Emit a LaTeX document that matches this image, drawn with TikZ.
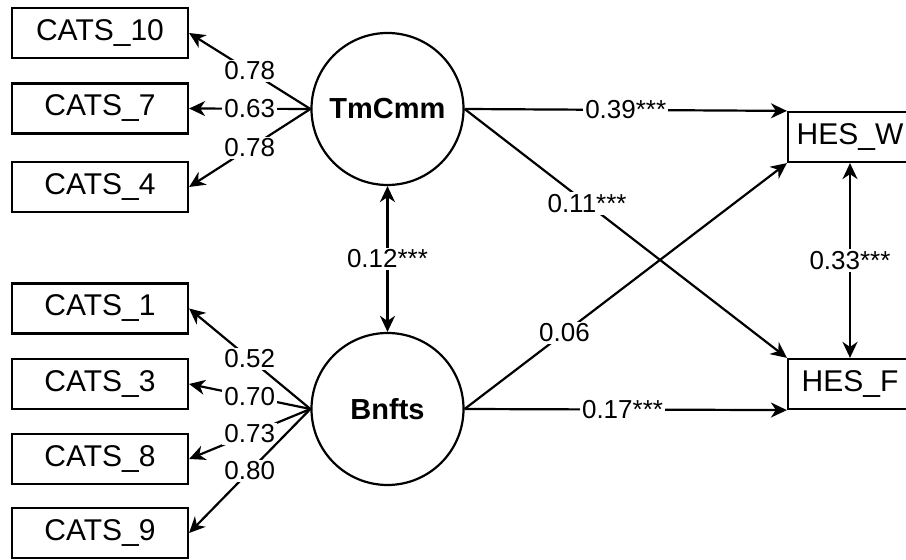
\documentclass[tikz,border=0pt]{standalone}
\usepackage{fontspec}
\setmainfont{Liberation Sans}
\usetikzlibrary{arrows.meta}

\begin{document}
\begin{tikzpicture}[x=0.5pt, y=-0.5pt,
		obs/.style={draw, line width=1.1pt, minimum width=88pt, minimum height=25pt, inner sep=0pt, font=\fontsize{15}{17}\selectfont},
		lat/.style={draw, circle, line width=1.1pt, minimum size=76pt, inner sep=0pt, font=\fontsize{14.5}{16}\selectfont\bfseries},
		est/.style={fill=white, inner sep=1pt, font=\fontsize{13}{15}\selectfont},
		arr/.style={line width=1.1pt, -{Stealth[length=8pt, width=7.5pt, inset=2.5pt]}},
		darr/.style={line width=1.1pt, {Stealth[length=8pt, width=7.5pt, inset=2.5pt]}-{Stealth[length=8pt, width=7.5pt, inset=2.5pt]}}]
		\useasboundingbox (0,0) rectangle (906,560);
		% indicators
		\node[obs] (C10) at (100,33) {CATS\_10};
		\node[obs] (C7) at (100,108.5) {CATS\_7};
		\node[obs] (C4) at (100,187) {CATS\_4};
		\node[obs] (C1) at (100,308.5) {CATS\_1};
		\node[obs] (C3) at (100,384) {CATS\_3};
		\node[obs] (C8) at (100,459) {CATS\_8};
		\node[obs] (C9) at (100,533) {CATS\_9};
		% factors
		\node[lat] (TC) at (387.5,109) {TmCmm};
		\node[lat] (BN) at (387.5,409) {Bnfts};
		% outcomes
		\node[obs, minimum width=62pt] (HW) at (850,137) {HES\_W};
		\node[obs, minimum width=62pt] (HF) at (850,384) {HES\_F};
		% loadings
		\draw[arr] (TC.west) -- node[est] {0.78} (C10.east);
		\draw[arr] (TC.west) -- node[est] {0.63} (C7.east);
		\draw[arr] (TC.west) -- node[est] {0.78} (C4.east);
		\draw[arr] (BN.west) -- node[est] {0.52} (C1.east);
		\draw[arr] (BN.west) -- node[est] {0.70} (C3.east);
		\draw[arr] (BN.west) -- node[est] {0.73} (C8.east);
		\draw[arr] (BN.west) -- node[est] {0.80} (C9.east);
		% covariances
		\draw[darr] (TC.south) -- node[est] {0.12***} (BN.north);
		\draw[darr] (HW.south) -- node[est] {0.33***} (HF.north);
		% regressions
		\draw[arr] (TC.east) -- node[est, pos=0.5] {0.39***} (HW.north west);
		\draw[arr] (TC.east) -- node[est, pos=0.38] {0.11***} (HF.north west);
		\draw[arr] (BN.east) -- node[est, pos=0.31] {0.06} (HW.south west);
		\draw[arr] (BN.east) -- node[est, pos=0.49] {0.17***} (HF.south west);
	\end{tikzpicture}
\end{document}
